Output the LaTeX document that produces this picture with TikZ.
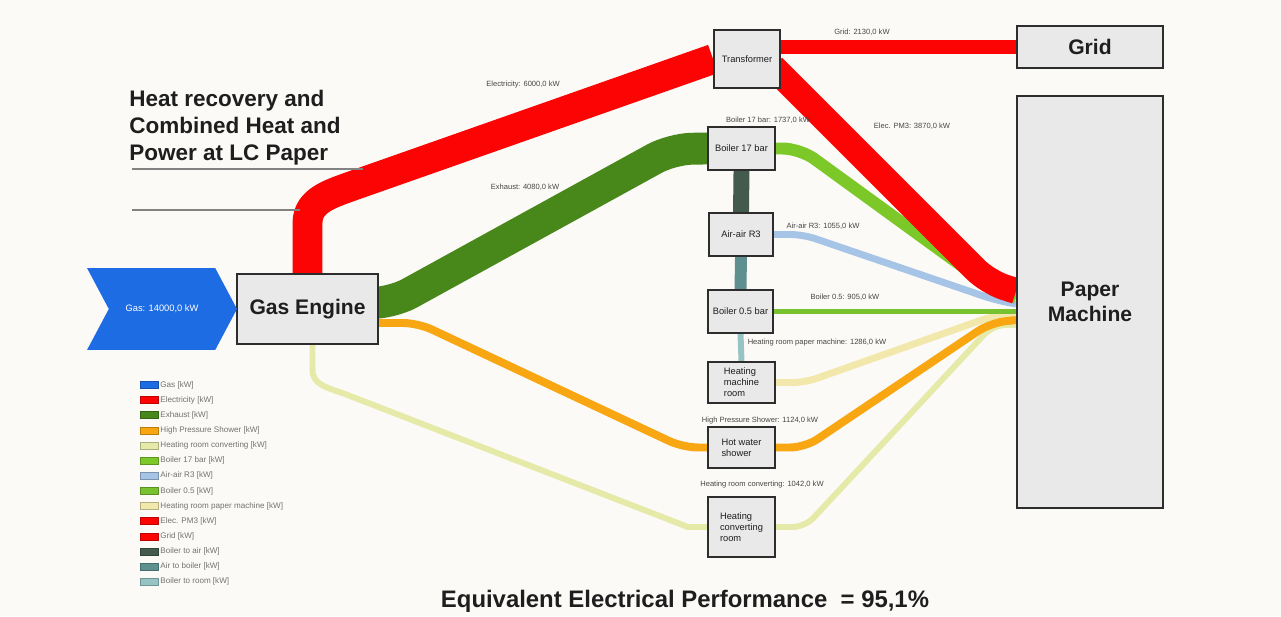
\documentclass[tikz,border=0pt]{standalone}
\usepackage{fontspec}
\setmainfont{Liberation Sans}
\usetikzlibrary{positioning,calc,shapes.symbols}

\definecolor{bgpaper}{RGB}{252,250,247}
\definecolor{boxfill}{RGB}{233,233,233}
\definecolor{boxline}{RGB}{45,45,45}
\definecolor{txtdark}{RGB}{30,30,30}
\definecolor{lblgray}{RGB}{70,70,70}
\definecolor{leggray}{RGB}{115,115,115}
\definecolor{rulegray}{RGB}{130,130,130}
\definecolor{gasblue}{RGB}{30,108,228}
\definecolor{elecred}{RGB}{252,4,4}
\definecolor{exhgreen}{RGB}{72,136,26}
\definecolor{boilgreen}{RGB}{124,200,40}
\definecolor{halfgreen}{RGB}{120,194,48}
\definecolor{airblue}{RGB}{166,196,230}
\definecolor{showerorange}{RGB}{248,166,18}
\definecolor{convyellow}{RGB}{230,234,168}
\definecolor{roomyellow}{RGB}{242,232,172}
\definecolor{boilair}{RGB}{68,90,76}
\definecolor{airboil}{RGB}{94,144,144}
\definecolor{boilroom}{RGB}{150,196,196}

\pgfdeclarelayer{bg}
\pgfdeclarelayer{flows}
\pgfsetlayers{bg,flows,main}

\begin{document}
\begin{tikzpicture}[
x=0.02cm, y=0.02cm,
box/.style={rectangle, draw=boxline, fill=boxfill, line width=1.1pt, inner sep=1pt, text=txtdark, font=\fontsize{5.3}{6.2}\selectfont},
bigbox/.style={box, font=\fontsize{12}{14.5}\selectfont\bfseries},
gasarrow/.style={signal, signal to=east, signal from=west, signal pointer angle=124, fill=gasblue, text=white, inner sep=0pt, minimum width=3cm, minimum height=1.64cm, font=\fontsize{5.3}{6.2}\selectfont},
flow/.style={line width=#1*0.567pt, line join=round},
flowlbl/.style={inner sep=0pt, text=lblgray, font=\fontsize{4.3}{5}\selectfont},
swatch/.style={rectangle, draw=#1!75!black, fill=#1, line width=0.4pt, minimum width=0.36cm, minimum height=0.14cm, inner sep=0pt},
legtext/.style={inner sep=1pt, text=leggray, font=\fontsize{4.6}{5.5}\selectfont},
titletxt/.style={inner sep=0pt, align=left, text=txtdark, font=\fontsize{12.8}{15.3}\selectfont\bfseries},
rule/.style={rulegray, line width=0.9pt}
]
\useasboundingbox (0,0) rectangle (1281,616);
\begin{pgfonlayer}{bg}
\fill[bgpaper] (0,0) rectangle (1281,616);
\end{pgfonlayer}

\node[titletxt, anchor=north west] (title) at (129,526) {Heat recovery and\\Combined Heat and\\Power at LC Paper};
\draw[rule] (132,447) -- (363,447);
\draw[rule] (132,406) -- (300,406);

\node[box, font=\fontsize{12}{14.5}\selectfont\bfseries, minimum width=2.82cm, minimum height=1.4cm] (engine) at (307.5,307) {Gas Engine};
\node[gasarrow] (gas) at (162,307) {Gas: 14000,0 kW};
\node[box, minimum width=1.32cm, minimum height=1.16cm] (transformer) at (747,557) {Transformer};
\node[bigbox, minimum width=2.92cm, minimum height=0.84cm] (grid) at (1090,569) {Grid};
\node[bigbox, align=center, minimum width=2.92cm, minimum height=8.24cm] (paper) at (1090,314) {Paper\\Machine};
\node[box, minimum width=1.34cm, minimum height=0.86cm] (boiler17) at (741.5,467.5) {Boiler 17 bar};
\node[box, minimum width=1.28cm, minimum height=0.86cm] (airair) at (741,381.5) {Air-air R3};
\node[box, minimum width=1.3cm, minimum height=0.86cm] (boiler05) at (740.5,304.5) {Boiler 0.5 bar};
\node[box, align=left, minimum width=1.34cm, minimum height=0.82cm] (hmroom) at (741.5,233.5) {Heating\\machine\\room};
\node[box, align=left, minimum width=1.34cm, minimum height=0.82cm] (shower) at (741.5,168.5) {Hot water\\shower};
\node[box, align=left, minimum width=1.34cm, minimum height=1.2cm] (hcroom) at (741.5,89) {Heating\\converting\\room};

\node[flowlbl] (lblelec) at (523,531) {Electricity: 6000,0 kW};
\node[flowlbl] (lblexh) at (525,429) {Exhaust: 4080,0 kW};
\node[flowlbl] (lblgrid) at (862,584) {Grid: 2130,0 kW};
\node[flowlbl] (lblpm) at (912,490) {Elec. PM3: 3870,0 kW};
\node[flowlbl] (lblb17) at (768,496) {Boiler 17 bar: 1737,0 kW};
\node[flowlbl] (lblair) at (823,390) {Air-air R3: 1055,0 kW};
\node[flowlbl] (lblb05) at (845,319) {Boiler 0.5: 905,0 kW};
\node[flowlbl] (lblhm) at (817,273) {Heating room paper machine: 1286,0 kW};
\node[flowlbl] (lblhp) at (760,195) {High Pressure Shower: 1124,0 kW};
\node[flowlbl] (lblhc) at (762,131) {Heating room converting: 1042,0 kW};

\begin{pgfonlayer}{flows}
\draw[flow=6, convyellow] ($(engine.south)+(5,0)$) -- ++(0,-25) to[out=-90,in=159] (345,222) -- (688,89) -- (hcroom.west);
\draw[flow=6, convyellow, rounded corners=0.25cm] (hcroom.east) -- (805,89) -- (993,291) -- (paper.west |- 0,291);
\draw[flow=7, roomyellow, rounded corners=0.25cm] (hmroom.east) -- (805,233.5) -- (993,300) -- (paper.west |- 0,302);
\draw[flow=8, showerorange, rounded corners=0.3cm] (engine.east |- 0,293) -- (418,293) -- (683,168.5) -- (shower.west);
\draw[flow=8, showerorange, rounded corners=0.3cm] (shower.east) -- (805,168.5) -- (990,293) -- (paper.west |- 0,296);
\draw[flow=5, halfgreen] (boiler05.east) -- (paper.west |- boiler05.east);
\draw[flow=7, airblue, rounded corners=0.25cm] (airair.east) -- (803,381.5) -- (995,316) -- (paper.west |- 0,312);
\draw[flow=12, boilgreen, rounded corners=0.35cm] (boiler17.east) -- (800,467.5) -- (992,328) -- (paper.west |- 0,318);
\draw[flow=32, exhgreen, rounded corners=0.4cm] (engine.east |- 0,313) -- (392,313) -- (672,467) -- (boiler17.west);
\draw[flow=16, boilair] (boiler17.south) -- (airair.north);
\draw[flow=12, airboil] (airair.south) -- (boiler05.north);
\draw[flow=6, boilroom] (boiler05.south) -- (hmroom.north);
\draw[flow=26, elecred, rounded corners=0.35cm] ($(transformer.east)+(-8,-8)$) -- (988,334) -- (paper.west |- 0,325);
\draw[flow=14, elecred] (transformer.east |- grid.west) -- (grid.west);
\draw[flow=30, elecred] (engine.north) -- ++(0,50) to[out=90,in=200] (352,430) -- (transformer.west);
\end{pgfonlayer}

\begin{scope}[node distance=0.303cm]
\node[swatch=gasblue, label={[legtext]right:{Gas [kW]}}] (lg1) at (149,231) {};
\node[swatch=elecred, label={[legtext]right:{Electricity [kW]}}, below of=lg1] (lg2) {};
\node[swatch=exhgreen, label={[legtext]right:{Exhaust [kW]}}, below of=lg2] (lg3) {};
\node[swatch=showerorange, label={[legtext]right:{High Pressure Shower [kW]}}, below of=lg3] (lg4) {};
\node[swatch=convyellow, label={[legtext]right:{Heating room converting [kW]}}, below of=lg4] (lg5) {};
\node[swatch=boilgreen, label={[legtext]right:{Boiler 17 bar [kW]}}, below of=lg5] (lg6) {};
\node[swatch=airblue, label={[legtext]right:{Air-air R3 [kW]}}, below of=lg6] (lg7) {};
\node[swatch=halfgreen, label={[legtext]right:{Boiler 0.5 [kW]}}, below of=lg7] (lg8) {};
\node[swatch=roomyellow, label={[legtext]right:{Heating room paper machine [kW]}}, below of=lg8] (lg9) {};
\node[swatch=elecred, label={[legtext]right:{Elec. PM3 [kW]}}, below of=lg9] (lg10) {};
\node[swatch=elecred, label={[legtext]right:{Grid [kW]}}, below of=lg10] (lg11) {};
\node[swatch=boilair, label={[legtext]right:{Boiler to air [kW]}}, below of=lg11] (lg12) {};
\node[swatch=airboil, label={[legtext]right:{Air to boiler [kW]}}, below of=lg12] (lg13) {};
\node[swatch=boilroom, label={[legtext]right:{Boiler to room [kW]}}, below of=lg13] (lg14) {};
\end{scope}

\node[inner sep=0pt, text=txtdark, font=\fontsize{13.6}{16}\selectfont\bfseries] (perf) at (685,15) {Equivalent Electrical Performance~ = 95,1\%};
\end{tikzpicture}
\end{document}
